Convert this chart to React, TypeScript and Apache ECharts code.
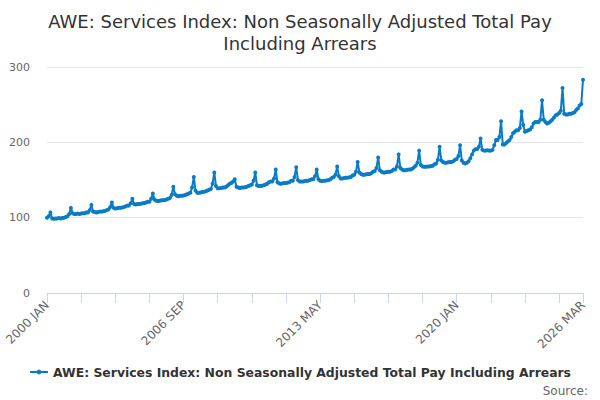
import React, { useEffect, useRef } from "react";
import * as echarts from "echarts";

const MONTHS = ["JAN", "FEB", "MAR", "APR", "MAY", "JUN", "JUL", "AUG", "SEP", "OCT", "NOV", "DEC"];
const FIRST_YEAR = 2000;

// index values, one row per year (Jan..Dec)
const y2000 = [100, 102, 107, 99, 98.5, 99, 99, 99.5, 99, 99.5, 100, 101];
const y2001 = [102, 105, 113, 106, 105, 105, 105.5, 105, 105.5, 106, 106, 107];
const y2002 = [107, 110, 117, 108, 107.5, 107, 107.5, 108, 108, 108.5, 109, 110];
const y2003 = [111, 114, 120, 113, 112, 112.5, 113, 113, 113.5, 114, 115, 116];
const y2004 = [116, 119, 125, 118, 117.5, 118, 118, 118.5, 119, 119.5, 120, 121];
const y2005 = [121, 125, 132, 124, 122.5, 122, 122.5, 123, 123, 123.5, 124, 125];
const y2006 = [126, 130, 141, 131, 129, 128.5, 129, 129, 129.5, 130, 131, 132];
const y2007 = [133, 140, 154, 136, 133, 133, 133.5, 134, 134.5, 135, 136, 137];
const y2008 = [138, 145, 160, 142, 139, 139, 139.5, 140, 140, 141, 143, 145];
const y2009 = [146, 148, 151, 141, 140, 139.5, 140, 140, 140.5, 141, 142, 143];
const y2010 = [144, 149, 160, 143, 142, 142, 142.5, 143, 144, 145, 147, 148];
const y2011 = [148, 152, 164, 147, 145.5, 145, 145.5, 146, 146, 146.5, 147, 149];
const y2012 = [149, 154, 167, 150, 148, 148, 148, 148.5, 149, 149, 150, 151];
const y2013 = [151, 155, 164, 151, 149, 148.5, 149, 149, 149.5, 150, 151, 153];
const y2014 = [154, 157, 168, 155, 152, 152, 152.5, 153, 153, 153.5, 154, 156];
const y2015 = [157, 161, 174, 160, 158, 157, 157, 157.5, 158, 158, 159, 161];
const y2016 = [162, 166, 180, 163, 161, 160, 160, 160.5, 161, 161, 162, 164];
const y2017 = [164, 168, 184, 166, 164, 163, 163, 163.5, 164, 164, 165, 167];
const y2018 = [169, 173, 189, 170, 168, 167.5, 167.5, 168, 168, 168.5, 169, 171];
const y2019 = [172, 177, 194, 176, 174, 173, 173, 173.5, 174, 174, 175, 177];
const y2020 = [178, 182, 196, 176, 173, 172, 173, 175, 179, 184, 189, 191];
const y2021 = [191, 194, 205, 190, 189, 189, 189.5, 189, 189, 190, 196, 203];
const y2022 = [203, 207, 228, 197, 197, 199, 201, 203, 207, 212, 214, 216];
const y2023 = [216, 219, 241, 223, 214, 215, 216, 217, 220, 225, 227, 227];
const y2024 = [227, 230, 256, 230, 227, 225, 226, 228, 230, 233, 236, 237];
const y2025 = [239, 242, 272, 238, 237, 237, 238, 238, 239, 240, 243, 245];
const y2026 = [249, 251, 283];

const values = [
  ...y2000, ...y2001, ...y2002, ...y2003, ...y2004, ...y2005, ...y2006, ...y2007, ...y2008,
  ...y2009, ...y2010, ...y2011, ...y2012, ...y2013, ...y2014, ...y2015, ...y2016, ...y2017,
  ...y2018, ...y2019, ...y2020, ...y2021, ...y2022, ...y2023, ...y2024, ...y2025, ...y2026,
];

const categories = values.map((_, i) => `${FIRST_YEAR + Math.floor(i / 12)} ${MONTHS[i % 12]}`);

const SERIES_NAME = "AWE: Services Index: Non Seasonally Adjusted Total Pay Including Arrears";
const FONT = "DejaVu Sans";

const App: React.FC = () => {
  const chartRef = useRef<HTMLDivElement>(null);

  useEffect(() => {
    document.body.style.margin = "0";
    if (!chartRef.current) return;
    const chart = echarts.init(chartRef.current, undefined, { renderer: "svg" });
    const last = categories.length - 1;

    chart.setOption({
      animation: false,
      textStyle: { fontFamily: FONT },
      title: {
        text: "AWE: Services Index: Non Seasonally Adjusted Total Pay\nIncluding Arrears",
        left: "center",
        top: 5,
        textStyle: { fontSize: 18, fontWeight: "normal", color: "#333", lineHeight: 22, fontFamily: FONT },
      },
      grid: { left: 47, right: 17, top: 67, bottom: 107 },
      legend: {
        bottom: 17,
        left: "center",
        itemWidth: 18,
        itemHeight: 6,
        textStyle: { fontSize: 12.4, fontWeight: "bold", color: "#333", fontFamily: FONT },
      },
      graphic: [
        {
          type: "text",
          right: 12,
          bottom: 3,
          style: { text: "Source:", fill: "#666", fontSize: 12, fontFamily: FONT },
        },
      ],
      xAxis: {
        type: "category",
        data: categories,
        boundaryGap: false,
        axisLine: { lineStyle: { color: "#ccd6eb" } },
        axisTick: {
          length: 10,
          lineStyle: { color: "#ccd6eb" },
          interval: (i: number) => i % 20 === 0 || i === last,
        },
        axisLabel: {
          rotate: 45,
          color: "#666",
          fontSize: 12,
          fontFamily: FONT,
          margin: 10,
          interval: (i: number) => i % 80 === 0 || i === last,
        },
        splitLine: { show: false },
      },
      yAxis: {
        type: "value",
        min: 0,
        max: 300,
        interval: 100,
        axisLine: { show: false },
        axisTick: { show: false },
        axisLabel: { color: "#666", fontSize: 11, fontFamily: FONT, margin: 17 },
        splitLine: { lineStyle: { color: "#e6e6e6" } },
      },
      series: [
        {
          name: SERIES_NAME,
          type: "line",
          data: values,
          symbol: "circle",
          symbolSize: 4,
          showAllSymbol: true,
          lineStyle: { color: "#0b7cc4", width: 2 },
          itemStyle: { color: "#0b7cc4" },
        },
      ],
    });

    return () => {
      chart.dispose();
    };
  }, []);

  return <div ref={chartRef} style={{ width: 600, height: 400 }} />;
};

export default App;
